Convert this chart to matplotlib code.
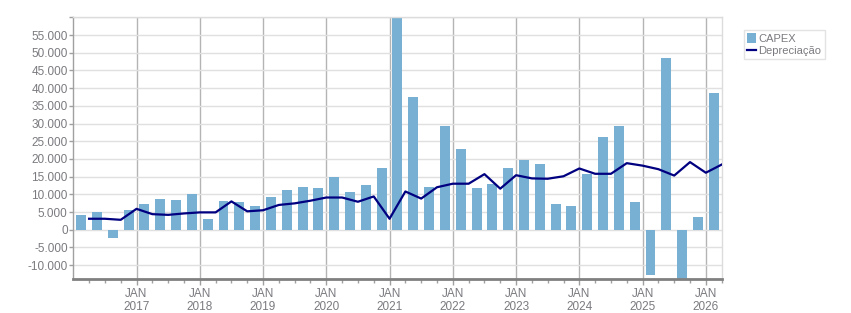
import matplotlib
matplotlib.use("Agg")
import matplotlib.pyplot as plt
from matplotlib.ticker import FuncFormatter, FixedLocator
from matplotlib.lines import Line2D
from matplotlib.patches import Patch

plt.rcParams['font.family'] = ['Liberation Sans', 'DejaVu Sans']

# Quarters Q1 2016 .. Q1 2026
quarters = [f"{y}Q{q}" for y in range(2016, 2027) for q in range(1, 5)][:41]

capex = [4300, 4900, -2200, 5700, 7400, 8800, 8500, 10200, 3100, 8200,
         7900, 6800, 9300, 11300, 12200, 11900, 15000, 10750, 12700, 17300,
         61000, 37600, 12200, 29400, 22900, 11900, 13000, 17500, 19800, 18700,
         7400, 6800, 15800, 26300, 29400, 7900, -12700, 48400, -15500, 3700,
         38500]

depreciacao = [3100, 3100, 2800, 5900, 4400, 4200, 4600, 4900, 4900, 8000,
               5200, 5500, 7000, 7450, 8200, 9100, 9100, 7900, 9400, 3100,
               10800, 8800, 12000, 13000, 13000, 15700, 11600, 15400, 14500, 14400,
               15100, 17300, 15800, 15800, 18800, 18100, 17100, 15300, 19100, 16100,
               18400]

year_labels = ["2017", "2018", "2019", "2020", "2021", "2022", "2023", "2024", "2025", "2026"]

bar_color = "#77b0d3"
line_color = "#000080"
text_color = "#7a7a80"

fig = plt.figure(figsize=(8.51, 3.13), dpi=100)
ax = fig.add_axes([0.0861, 0.1077, 0.848 - 0.0861, 0.9447 - 0.1077])

n = len(capex)
bar_x = [i + 0.5 for i in range(n)]
line_x = [i + 1 for i in range(len(depreciacao))]

ax.bar(bar_x, capex, width=0.63, color=bar_color, zorder=2)
ax.plot(line_x, depreciacao, color=line_color, lw=1.6, zorder=3)

ax.set_xlim(0, 41)
ax.set_ylim(-14000, 60000)

yt = list(range(-10000, 60001, 5000))
ax.yaxis.set_major_locator(FixedLocator(yt))
def yfmt(v, pos):
    if v >= 60000:
        return ""
    s = f"{int(v):,}".replace(",", ".")
    return s
ax.yaxis.set_major_formatter(FuncFormatter(yfmt))

major = [4 * k for k in range(1, 11)]
minor = [i for i in range(1, 42) if i not in major]
ax.set_xticks(major)
ax.set_xticklabels([f"JAN\n{y}" for y in year_labels], linespacing=1.05)
ax.set_xticks(minor, minor=True)

ax.grid(axis="y", color="#e0e0e0", lw=1, zorder=0)
ax.grid(axis="x", which="major", color="#b4b4b4", lw=1, zorder=0)
ax.set_axisbelow(True)

for s in ["top", "right"]:
    ax.spines[s].set_color("#dcdcdc")
    ax.spines[s].set_linewidth(1)
ax.spines["left"].set_color("#a0a0a0")
ax.spines["left"].set_linewidth(1)
ax.spines["bottom"].set_color("#808080")
ax.spines["bottom"].set_linewidth(2)

ax.tick_params(axis="y", colors="#a0a0a0", labelcolor=text_color, labelsize=8.5, length=3, width=1, pad=1)
ax.tick_params(axis="x", which="major", colors="#a0a0a0", labelcolor=text_color, labelsize=8.5, length=4, width=1, pad=2.5)
ax.tick_params(axis="x", which="minor", colors="#a0a0a0", length=3, width=1)

handles = [Patch(facecolor=bar_color, edgecolor="none"),
           Line2D([0], [0], color=line_color, lw=1.6)]
leg = fig.legend(handles, ["CAPEX", "Depreciação"], loc="upper left",
                 bbox_to_anchor=(744 / 851, 1 - 30 / 313), frameon=True, fancybox=False,
                 fontsize=8, handlelength=0.75, handleheight=0.9, handletextpad=0.25, borderpad=0.3,
                 labelspacing=0.15, borderaxespad=0)
leg.get_frame().set_edgecolor("#dcdcdc")
leg.get_frame().set_linewidth(1)
for t in leg.get_texts():
    t.set_color(text_color)

fig.savefig("out.png", dpi=100)
